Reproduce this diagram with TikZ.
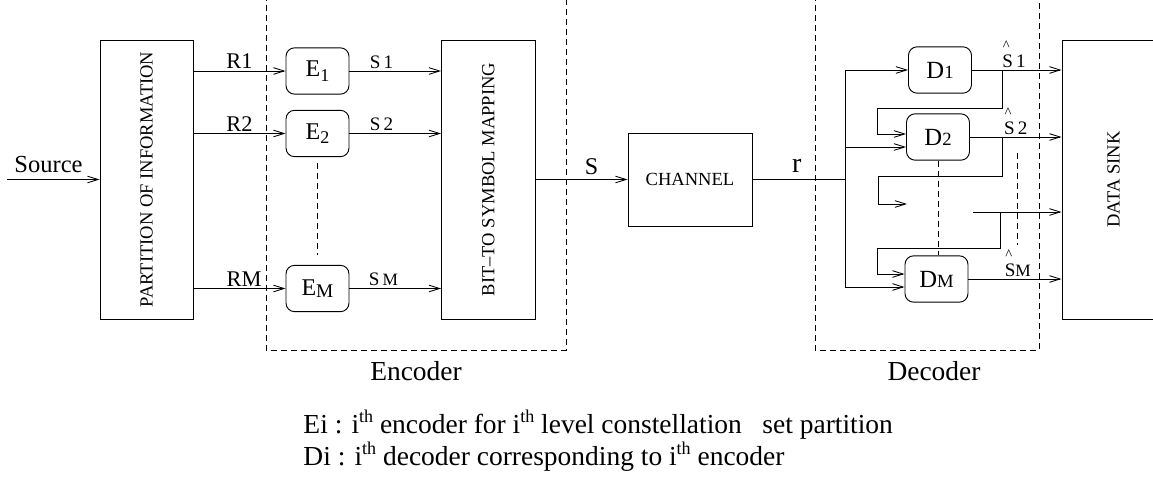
\documentclass[tikz,border=0pt]{standalone}
\usepackage{fontspec}
\setmainfont{Liberation Serif}
\usetikzlibrary{arrows.meta,calc}
% small raised suffix such as "th"
\newcommand{\sups}[1]{\raisebox{0.38em}{\fontsize{13.5}{14}\selectfont #1}}
\begin{document}
\begin{tikzpicture}[x=0.75pt,y=-0.75pt,
  line width=0.7pt,
  arr/.style={-{Straight Barb[length=8pt,width=5pt,line width=0.65pt]}},
  blk/.style={draw, rectangle, inner sep=0pt, font=\fontsize{13.9}{16}\selectfont},
  rblk/.style={draw, rectangle, rounded corners=6.5pt, inner sep=0pt,
    minimum width=47.25pt, minimum height=34.8pt},
  grp/.style={line width=0.65pt, dash pattern=on 4.5pt off 3pt},
  vdash/.style={line width=0.65pt, dash pattern=on 4.5pt off 3pt},
  rlbl/.style={font=\fontsize{16.8}{18}\selectfont, inner sep=1.5pt},
  slbl/.style={font=\fontsize{14.3}{16}\selectfont, inner sep=1.5pt},
  caret/.style={font=\fontsize{11}{11}\selectfont, inner sep=0pt, anchor=south west},
  big/.style={font=\fontsize{20.6}{24}\selectfont}
]
\useasboundingbox (0,0) rectangle (1153,477);

% ---- group frames
\draw[grp] (266,-5) rectangle (566,350);
\draw[grp] (815,-5) rectangle (1039,350);
\node[big, anchor=base] (enclbl) at (416,380) {Encoder};
\node[big, anchor=base] (declbl) at (934,380) {Decoder};

% ---- blocks
\node[blk, minimum width=69.75pt, minimum height=209.25pt] (part) at (146.5,179.5)
  {\rotatebox{90}{PARTITION OF INFORMATION}};
\node[blk, minimum width=70.1pt, minimum height=209.25pt] (bts) at (488.25,179.5)
  {\rotatebox{90}{BIT--TO SYMBOL MAPPING}};
\node[blk, minimum width=93pt, minimum height=69.75pt] (chan) at (690,179.5) {CHANNEL};
\node[blk, minimum width=77.25pt, minimum height=209.25pt] (sink) at (1113.5,179.5)
  {\rotatebox{90}{DATA SINK}};

% ---- encoders
\node[rblk, font=\fontsize{18}{20}\selectfont] (E1) at (317.5,71)
  {E\raisebox{-3.5pt}{\fontsize{13.5}{14}\selectfont 1}};
\node[rblk, font=\fontsize{18}{20}\selectfont] (E2) at (317.5,133.5)
  {E\raisebox{-3.5pt}{\fontsize{13.5}{14}\selectfont 2}};
\node[rblk, font=\fontsize{18}{20}\selectfont] (EM) at (317.5,288.5)
  {E\raisebox{-1pt}{\fontsize{14.5}{15}\selectfont M}};

% ---- decoders
\node[rblk, font=\fontsize{18.5}{20}\selectfont] (D1) at (940,70)
  {D\fontsize{14}{15}\selectfont 1};
\node[rblk, font=\fontsize{18.5}{20}\selectfont] (D2) at (938,137)
  {D\fontsize{14}{15}\selectfont 2};
\node[rblk, font=\fontsize{18.5}{20}\selectfont] (DM) at (936.5,279)
  {D\fontsize{14}{15}\selectfont M};

% ---- source and partition
\coordinate (src) at (7,179.5);
\node[font=\fontsize{18.4}{20}\selectfont, anchor=base west, inner sep=0pt] (srclbl) at (14,173) {Source};
\draw[arr] (src) -- (part.west);

\draw[arr] (part.east |- E1.west) -- node[rlbl, above, pos=0.5] {R1} (E1.west);
\draw[arr] (part.east |- E2.west) -- node[rlbl, above, pos=0.5] {R2} (E2.west);
\draw[arr] (part.east |- EM.west) -- node[rlbl, above, pos=0.55] {RM} (EM.west);

\draw[arr] (E1.east) -- node[slbl, above, pos=0.35] {S\,1} (E1.east -| bts.west);
\draw[arr] (E2.east) -- node[slbl, above, pos=0.35] {S\,2} (E2.east -| bts.west);
\draw[arr] (EM.east) -- node[slbl, above, pos=0.37] {S\,{\fontsize{13}{14}\selectfont M}} (EM.east -| bts.west);

\draw[vdash, shorten <=4.5pt, shorten >=7.5pt] (E2) -- (EM);

% ---- channel
\draw[arr] (bts.east) -- node[font=\fontsize{18}{20}\selectfont, above, pos=0.61, inner sep=3pt] {S} (chan.west);
\coordinate (bus) at (845,179.5);
\draw (chan.east) -- node[font=\fontsize{21}{22}\selectfont, above, pos=0.48, inner sep=5pt] {r} (bus);

% ---- receiver bus
\coordinate (b1) at (845,70);
\coordinate (b2) at (845,147);
\coordinate (bM) at (845,287);
\draw (b1) -- (bM);
\draw[arr] (b1) -- (D1.west);
\draw[arr] (b2) -- (D2.west |- b2);
\draw[arr] (bM) -- (DM.west |- bM);

% ---- decoder outputs (estimates carry a caret above the S)
\draw[arr] (D1.east) -- node[slbl, above, pos=0.47, inner sep=1.5pt] (sh1) {S\,1} (D1.east -| sink.west);
\draw[arr] (D2.east) -- node[slbl, above, pos=0.50, inner sep=1.5pt] (sh2) {S\,2} (D2.east -| sink.west);
\draw[arr] (DM.east) -- node[slbl, above, pos=0.53, inner sep=1.5pt] (shM) {S{\fontsize{13}{14}\selectfont M}} (DM.east -| sink.west);
\node[caret] (c1) at ($(sh1.north west)+(2.5,-1)$) {\textasciicircum};
\node[caret] (c2) at ($(sh2.north west)+(2.5,-1)$) {\textasciicircum};
\node[caret] (cM) at ($(shM.north west)+(2.5,-1)$) {\textasciicircum};
\coordinate (o3) at (973,212);
\draw[arr] (o3) -- (o3 -| sink.west);

% ---- decision feedback
\coordinate (t1) at (1002,70);
\coordinate (f1) at (877,108);
\draw[arr] (t1) |- (f1) |- ($(D2.west)+(0,-3)$);
\coordinate (t2) at (1002,137);
\coordinate (f2) at (878,176);
\coordinate (a2) at (907,204);
\draw[arr] (t2) |- (f2) |- (a2);
\coordinate (t3) at (1000,212);
\coordinate (f3) at (877,248);
\draw[arr] (t3) |- (f3) |- ($(DM.west)+(0,-5)$);

\draw[vdash] (D2.south) -- (D2.south |- DM.north);
\coordinate (v1) at (1017,153);
\coordinate (v2) at (1017,245);
\draw[vdash] (v1) -- (v2);

% ---- legend
\node[big, anchor=base west, inner sep=0pt] (leg1) at (303,433)
  {Ei : i\sups{th} encoder for i\sups{th} level constellation\hspace{0.5em} set partition};
\node[big, anchor=base west, inner sep=0pt] (leg2) at (303,465)
  {Di : i\sups{th} decoder corresponding to i\sups{th} encoder};
\end{tikzpicture}
\end{document}
